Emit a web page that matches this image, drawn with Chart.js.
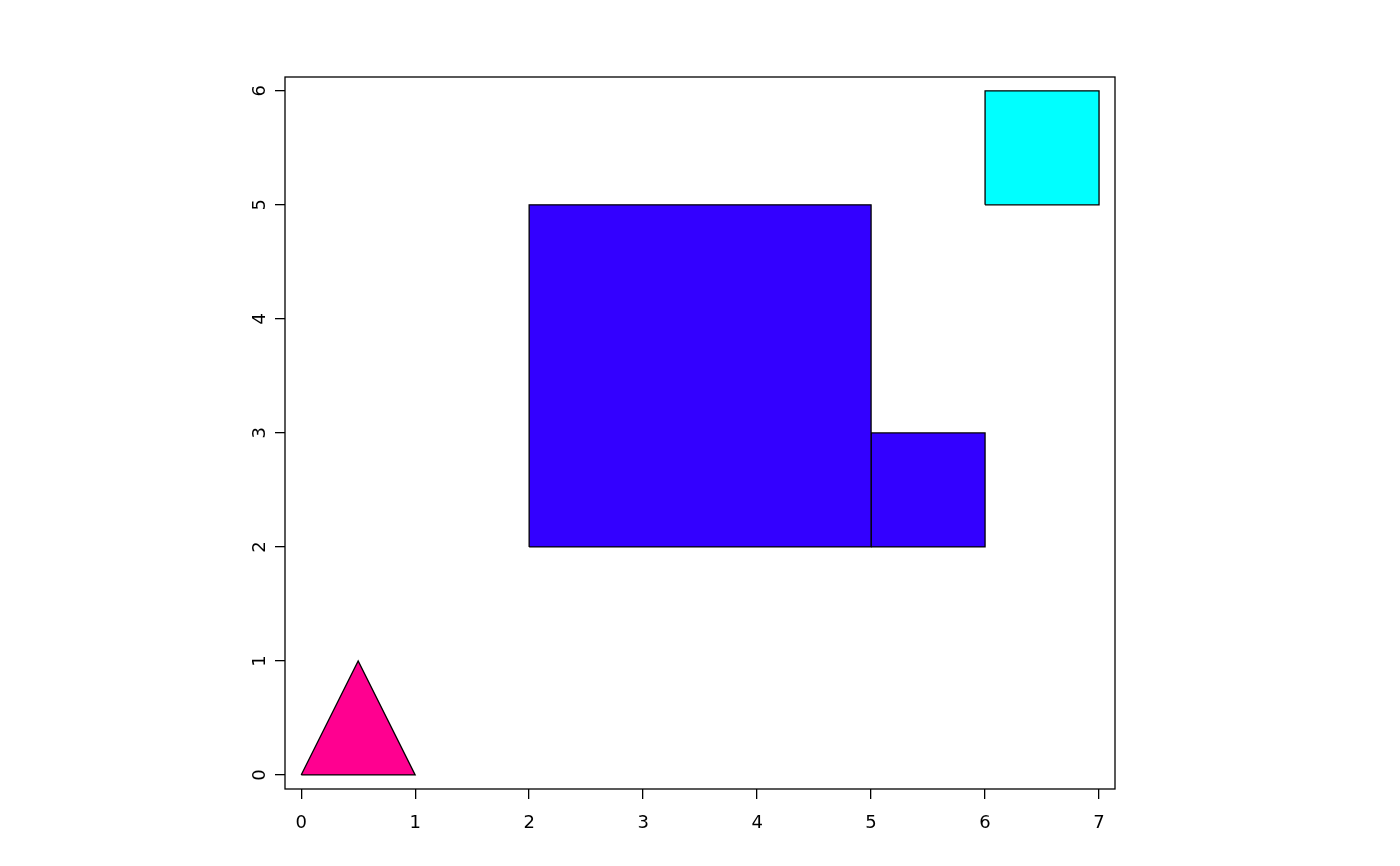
<!DOCTYPE html>
<html>
<head>
<meta charset="utf-8">
<script src="https://cdn.jsdelivr.net/npm/chart.js@4/dist/chart.umd.min.js"></script>
<style>
  html, body { margin: 0; padding: 0; background: #fff; }
  #wrap { width: 1400px; height: 866px; }
</style>
</head>
<body>
<div id="wrap"><canvas id="polyChart"></canvas></div>
<script>
  // ── DATA ──
  const triangleX = [0, 0.5, 1, 0];
  const triangleY = [0, 1, 0, 0];
  const bigRectX = [2, 2, 5, 5, 2];
  const bigRectY = [2, 5, 5, 2, 2];
  const smallRectX = [5, 5, 6, 6, 5];
  const smallRectY = [2, 3, 3, 2, 2];
  const cyanRectX = [6, 6, 7, 7, 6];
  const cyanRectY = [5, 6, 6, 5, 5];
  const xTicks = [0, 1, 2, 3, 4, 5, 6, 7];
  const yTicks = [0, 1, 2, 3, 4, 5, 6];

  const toPoints = (xs, ys) => xs.map((x, i) => ({ x: x, y: ys[i] }));

  function shape(xs, ys, color) {
    return {
      data: toPoints(xs, ys),
      showLine: true,
      fill: 'shape',
      backgroundColor: color,
      borderColor: '#000',
      borderWidth: 1.3,
      pointRadius: 0,
      tension: 0
    };
  }

  // box around the plot area
  const boxPlugin = {
    id: 'box',
    afterDraw(chart) {
      const a = chart.chartArea;
      const ctx = chart.ctx;
      ctx.save();
      ctx.strokeStyle = '#000';
      ctx.lineWidth = 1.3;
      ctx.strokeRect(a.left, a.top, a.right - a.left, a.bottom - a.top);
      ctx.restore();
    }
  };

  const ctx = document.getElementById('polyChart').getContext('2d');
  new Chart(ctx, {
    type: 'scatter',
    data: {
      datasets: [
        shape(triangleX, triangleY, '#FF0090'),
        shape(bigRectX, bigRectY, '#3300FF'),
        shape(smallRectX, smallRectY, '#3300FF'),
        shape(cyanRectX, cyanRectY, '#00FFFF')
      ]
    },
    options: {
      responsive: true,
      maintainAspectRatio: false,
      animation: false,
      layout: { padding: { left: 225, right: 285, top: 77, bottom: 27 } },
      plugins: {
        legend: { display: false },
        tooltip: { enabled: false }
      },
      scales: {
        x: {
          type: 'linear',
          min: -0.142,
          max: 7.14,
          afterBuildTicks: s => { s.ticks = xTicks.map(v => ({ value: v })); },
          afterFit: s => { s.height = 50; },
          border: { display: false },
          grid: { drawOnChartArea: false, tickLength: 10, color: '#000', lineWidth: 1.3 },
          ticks: { color: '#000', padding: 14, maxRotation: 0, font: { family: 'DejaVu Sans', size: 18 } }
        },
        y: {
          type: 'linear',
          min: -0.123,
          max: 6.121,
          afterBuildTicks: s => { s.ticks = yTicks.map(v => ({ value: v })); },
          afterFit: s => { s.width = 60; },
          border: { display: false },
          grid: { drawOnChartArea: false, tickLength: 10, color: '#000', lineWidth: 1.3 },
          ticks: {
            color: '#000', padding: 9, minRotation: 90, maxRotation: 90, crossAlign: 'center',
            font: { family: 'DejaVu Sans', size: 18 }
          }
        }
      }
    },
    plugins: [boxPlugin]
  });
</script>
</body>
</html>
